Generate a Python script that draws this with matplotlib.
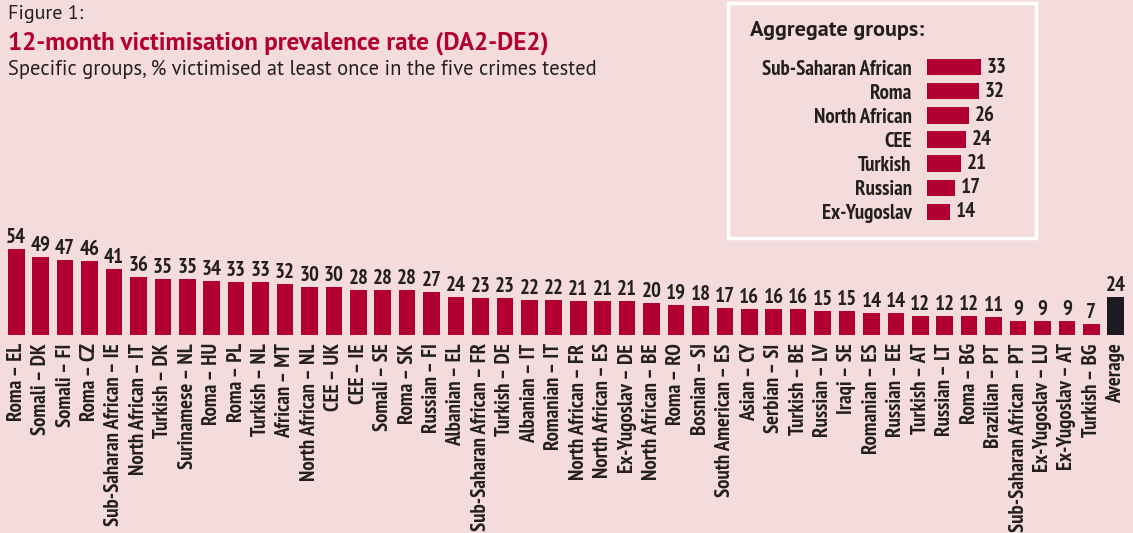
import matplotlib.pyplot as plt
from matplotlib.patches import Rectangle

# data
groups = ["Roma – EL", "Somali – DK", "Somali – FI", "Roma – CZ", "Sub-Saharan African – IE",
          "North African – IT", "Turkish – DK", "Surinamese – NL", "Roma – HU", "Roma – PL",
          "Turkish – NL", "African – MT", "North African – NL", "CEE – UK", "CEE – IE",
          "Somali – SE", "Roma – SK", "Russian – FI", "Albanian – EL", "Sub-Saharan African – FR",
          "Turkish – DE", "Albanian – IT", "Romanian – IT", "North African – FR", "North African – ES",
          "Ex-Yugoslav – DE", "North African – BE", "Roma – RO", "Bosnian – SI", "South American – ES",
          "Asian – CY", "Serbian – SI", "Turkish – BE", "Russian – LV", "Iraqi – SE",
          "Romanian – ES", "Russian – EE", "Turkish – AT", "Russian – LT", "Roma – BG",
          "Brazilian – PT", "Sub-Saharan African – PT", "Ex-Yugoslav – LU", "Ex-Yugoslav – AT",
          "Turkish – BG", "Average"]
values = [54, 49, 47, 46, 41, 36, 35, 35, 34, 33, 33, 32, 30, 30, 28, 28, 28, 27, 24, 23,
          23, 22, 22, 21, 21, 21, 20, 19, 18, 17, 16, 16, 16, 15, 15, 14, 14, 12, 12, 12,
          11, 9, 9, 9, 7, 24]

agg_groups = ["Sub-Saharan African", "Roma", "North African", "CEE", "Turkish", "Russian", "Ex-Yugoslav"]
agg_values = [33, 32, 26, 24, 21, 17, 14]

BG = "#f5dcdc"
RED = "#b20034"
DARK = "#1c1a20"
TXT = "#231f20"
narrow = ["PT Sans Narrow", "DejaVu Sans"]
sans = ["PT Sans", "DejaVu Sans"]

W, H = 1133, 533
fig = plt.figure(figsize=(W / 100, H / 100), dpi=100, facecolor=BG)

def px(x0, y0, x1, y1):
    # pixel box -> figure fraction [left, bottom, width, height]
    return [x0 / W, 1 - y1 / H, (x1 - x0) / W, (y1 - y0) / H]

# header
fig.text(8 / W, 1 - 14 / H, "Figure 1:", fontsize=14.5, color=TXT, family=sans, va="center")
fig.text(8 / W, 1 - 43 / H, "12-month victimisation prevalence rate (DA2-DE2)", fontsize=18,
         fontweight="bold", color=RED, family=sans, va="center")
fig.text(8 / W, 1 - 69 / H, "Specific groups, % victimised at least once in the five crimes tested",
         fontsize=14.8, color=TXT, family=sans, va="center")

# main bar chart
ax = fig.add_axes(px(4, 239, 1128, 335))
ax.set_facecolor("none")
xs = range(len(values))
colors = [RED] * (len(values) - 1) + [DARK]
ax.bar(xs, values, width=0.68, color=colors)
for x, v in zip(xs, values):
    ax.text(x, v + 1.3, str(v), ha="center", va="bottom", fontsize=15, fontweight="bold",
            color=TXT, family=narrow)
ax.set_xlim(-0.5, len(values) - 0.5)
ax.set_ylim(0, 60)
ax.set_xticks(list(xs))
ax.set_xticklabels(groups, rotation=90, fontsize=15, fontweight="bold", color=TXT, family=narrow)
ax.tick_params(axis="x", length=0, pad=6)
ax.set_yticks([])
for s in ax.spines.values():
    s.set_visible(False)

# aggregate groups box
fig.patches.append(Rectangle((728 / W, 1 - 238 / H), 308 / W, 235 / H, transform=fig.transFigure,
                             facecolor="none", edgecolor="white", linewidth=2.5))
fig.text(750 / W, 1 - 31 / H, "Aggregate groups:", fontsize=16, fontweight="bold", color=TXT,
         family=sans, va="center")

ax2 = fig.add_axes(px(927, 55, 1027, 224))
ax2.set_facecolor("none")
ys = range(len(agg_values))
ax2.barh(ys, agg_values, height=0.68, color=RED)
for y, v in zip(ys, agg_values):
    ax2.text(v + 3.5, y, str(v), va="center", ha="left", fontsize=15, fontweight="bold",
             color=TXT, family=narrow)
ax2.set_xlim(0, 100 / 1.63)
ax2.set_ylim(len(agg_values) - 0.5, -0.5)
ax2.set_yticks(list(ys))
ax2.set_yticklabels(agg_groups, fontsize=15, fontweight="bold", color=TXT, family=narrow)
ax2.tick_params(axis="y", length=0, pad=11)
ax2.set_xticks([])
for s in ax2.spines.values():
    s.set_visible(False)

fig.savefig("out.png", dpi=100, facecolor=BG)
